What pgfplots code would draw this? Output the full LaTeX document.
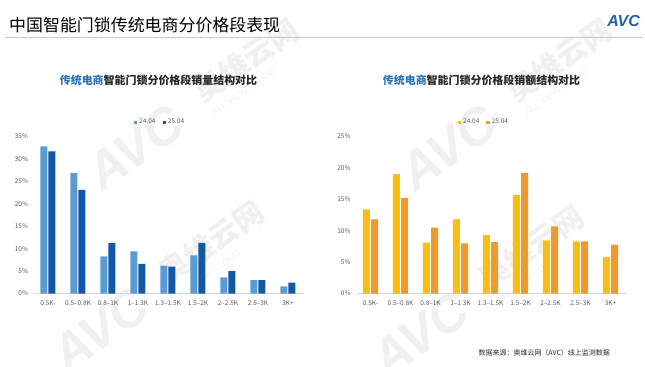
\documentclass[border=0pt]{standalone}
\usepackage{pgfplots}
\pgfplotsset{compat=1.18}
\usepackage{fontspec}
\setmainfont{Noto Sans CJK SC}
\newfontfamily\logofont{Liberation Sans}
\definecolor{lb}{HTML}{5B9BD5}
\definecolor{db}{HTML}{1158A6}
\definecolor{ly}{HTML}{F9BE14}
\definecolor{lo}{HTML}{EE9A2E}
\definecolor{tblue}{HTML}{2E75B6}
\definecolor{titc}{HTML}{262626}
\definecolor{tickc}{HTML}{595959}
\definecolor{axisc}{HTML}{D9D9D9}
\definecolor{linec}{HTML}{B8CCD9}
\definecolor{avcblue}{HTML}{1F5FAF}
\definecolor{wm}{HTML}{F0F0F0}
\pgfplotsset{
  mychart/.style={
    scale only axis, width=270bp, height=157bp,
    ymin=0, xmin=-0.45, xmax=8.55,
    xtick={0,...,8},
    xticklabels={0.5K-,0.5–0.8K,0.8–1K,1–1.3K,1.3–1.5K,1.5–2K,2–2.5K,2.5–3K,3K+},
    axis x line*=bottom, axis y line*=left,
    y axis line style={draw=none},
    x axis line style={draw=axisc, -, line width=0.8bp},
    major tick length=0pt,
    ticklabel style={font=\fontsize{6.5}{7}\selectfont, text=tickc},
    xticklabel style={yshift=-3.5bp},
    yticklabel style={xshift=-3bp},
    /pgf/number format/assume math mode=true,
    yticklabel={\pgfmathprintnumber{\tick}\%},
    ytick distance=5,
    legend columns=2,
    legend style={draw=none, fill=none, font=\fontsize{6.5}{7}\selectfont, text=tickc,
      anchor=center, inner sep=0pt,
      /tikz/every even column/.append style={column sep=5bp}},
  },
  mybar/.style={ybar, bar width=7bp, draw=none, fill=#1,
    legend image code/.code={\fill[#1] (0bp,-1.7bp) rectangle (3.4bp,1.7bp);}},
}
\begin{document}
\begin{tikzpicture}
\path[use as bounding box] (0,0) rectangle (645bp,-367bp);
% watermarks
\foreach \px/\py in {135/148, 100/330, 448/148, 420/335}{
\begin{scope}[shift={(\px bp,-\py bp)}, rotate=35, every node/.style={transform shape}]
\node[font=\logofont\bfseries\itshape\fontsize{52}{52}\selectfont, text=wm] at (0,0) {AVC};
\node[font=\bfseries\fontsize{30}{30}\selectfont, text=wm, anchor=west] at (78bp,8bp) {奥维云网};
\node[font=\logofont\fontsize{9}{9}\selectfont, text=wm, anchor=west] at (80bp,-16bp) {ALL VIEW CLOUD};
\end{scope}
}
% header
\node[anchor=west, inner sep=0, font=\fontsize{17}{17}\selectfont, text=black] at (9bp,-25bp) {中国智能门锁传统电商分价格段表现};
\draw[color=linec, line width=1.3bp] (5bp,-37.5bp) -- (643bp,-37.5bp);
\node[anchor=east, inner sep=0, text=avcblue, font=\logofont\bfseries\itshape\fontsize{16}{16}\selectfont] at (640bp,-21bp) {AVC};
% chart titles
\node[font=\bfseries\fontsize{11}{11}\selectfont, text=titc] at (158.5bp,-80.5bp) {\textcolor{tblue}{传统电商}智能门锁分价格段销量结构对比};
\node[font=\bfseries\fontsize{11}{11}\selectfont, text=titc] at (481.5bp,-80.5bp) {\textcolor{tblue}{传统电商}智能门锁分价格段销额结构对比};
% source
\node[anchor=east, inner sep=0, font=\fontsize{7}{7}\selectfont, text=titc] at (610bp,-353bp) {数据来源：奥维云网（AVC）线上监测数据};

\begin{axis}[mychart, at={(34.5bp,-293.5bp)}, anchor=south west, ymax=35,
  legend style={at={(0.465,1.09)}}]
\addplot[mybar=lb, bar shift=-4bp] coordinates {(0,32.8) (1,26.9) (2,8.3) (3,9.4) (4,6.2) (5,8.5) (6,3.6) (7,3.0) (8,1.6)};
\addlegendentry{24.04}
\addplot[mybar=db, bar shift=4bp] coordinates {(0,31.7) (1,23.1) (2,11.3) (3,6.6) (4,6.0) (5,11.3) (6,5.0) (7,3.0) (8,2.4)};
\addlegendentry{25.04}
\end{axis}

\begin{axis}[mychart, at={(357bp,-293.5bp)}, anchor=south west, ymax=25,
  legend style={at={(0.47,1.09)}}]
\addplot[mybar=ly, bar shift=-4.1bp] coordinates {(0,13.4) (1,19.0) (2,8.1) (3,11.8) (4,9.35) (5,15.7) (6,8.45) (7,8.3) (8,5.8)};
\addlegendentry{24.04}
\addplot[mybar=lo, bar shift=4.1bp] coordinates {(0,11.8) (1,15.2) (2,10.5) (3,8.0) (4,8.2) (5,19.2) (6,10.7) (7,8.3) (8,7.8)};
\addlegendentry{25.04}
\end{axis}
\end{tikzpicture}
\end{document}
